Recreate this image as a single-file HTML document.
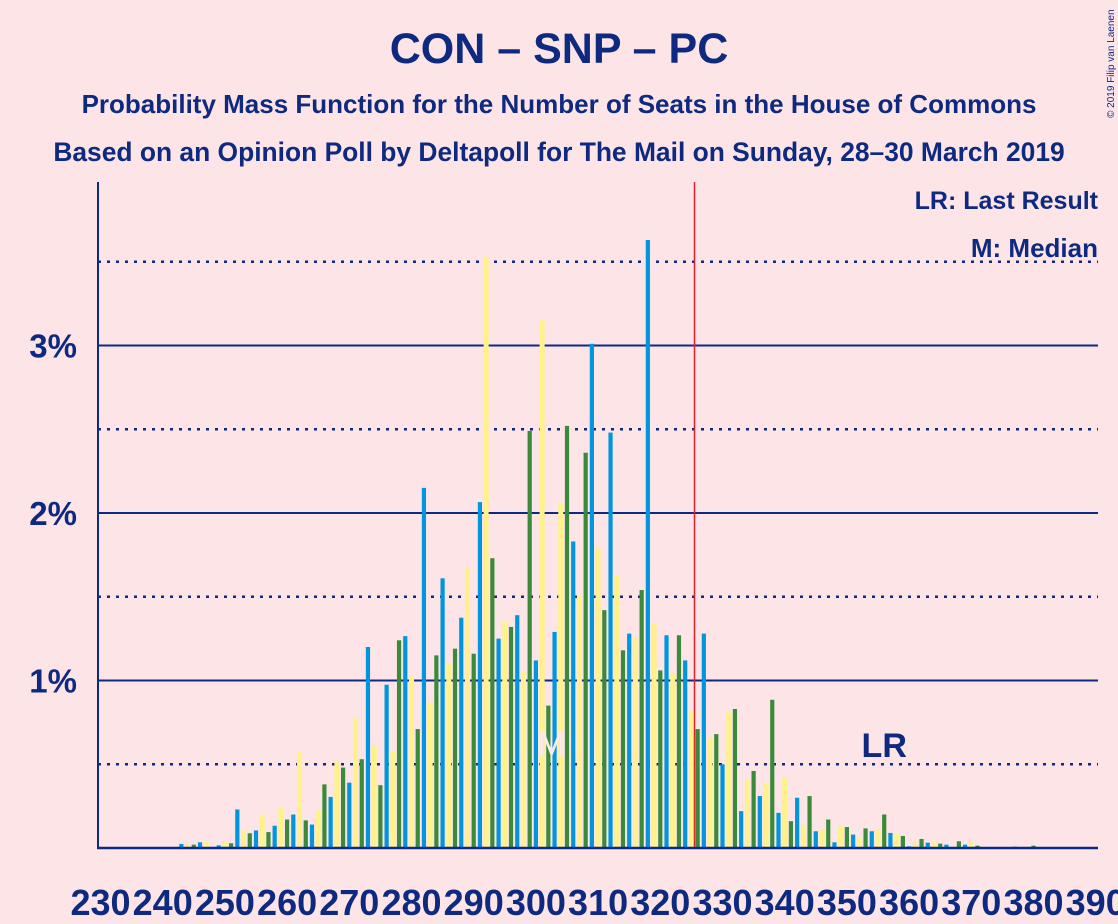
<!DOCTYPE html>
<html><head><meta charset="utf-8"><style>
body{margin:0;background:#fde4e7;}
svg{display:block;font-family:"Liberation Sans",sans-serif;}
</style></head><body>
<svg id="chart" width="1118" height="924" viewBox="0 0 1118 924">
<rect x="0" y="0" width="1118" height="924" fill="#fde4e7"/>
<text x="559" y="63" text-anchor="middle" font-size="43" font-weight="bold" fill="#0d2a80">CON – SNP – PC</text>
<text x="559" y="113" text-anchor="middle" font-size="26" font-weight="bold" fill="#0d2a80">Probability Mass Function for the Number of Seats in the House of Commons</text>
<text x="559" y="161" text-anchor="middle" font-size="26.4" font-weight="bold" fill="#0d2a80">Based on an Opinion Poll by Deltapoll for The Mail on Sunday, 28–30 March 2019</text>
<text x="1114" y="118" transform="rotate(-90 1114 118)" font-size="10" fill="#0d2a80" text-anchor="start">© 2019 Filip van Laenen</text>
<g id="grid"></g>
<g id="bars"></g>
<g id="axes"></g>
<text x="1098" y="209" text-anchor="end" font-size="25" font-weight="bold" fill="#0d2a80">LR: Last Result</text>
<text x="1098" y="257" text-anchor="end" font-size="26" font-weight="bold" fill="#0d2a80">M: Median</text>
</svg>
<script>
const firstSeat = 230;
const values = [0.003,0.003,0.003,0.003,0.003,0.003,0.004,0.004,0.003,0.003,0.004,0.004,0.006,0.024,0.03,0.02,0.034,0.038,0.006,0.016,0.04,0.028,
0.23,0.107,0.088,0.105,0.2,0.095,0.133,0.245,0.17,0.2,0.58,0.165,0.14,0.225,0.38,0.305,0.52,0.48,0.39,0.78,0.53,1.2,0.615,0.375,0.975,0.58,1.24,1.265,1.03,0.71,
2.15,0.87,1.15,1.61,1.10,1.19,1.375,1.67,1.16,2.065,3.53,1.73,1.25,1.35,1.32,1.39,1.05,2.49,1.12,3.15,0.85,1.29,2.06,2.52,1.83,1.51,2.36,3.01,1.79,1.42,2.48,1.63,1.18,1.28,1.26,1.54,3.63,1.34,1.06,1.27,1.04,1.27,1.12,0.82,
0.71,1.28,0.655,0.68,0.50,0.815,0.83,0.22,0.41,0.46,0.31,0.39,0.885,0.21,0.42,0.16,0.30,0.135,0.31,0.10,0.11,0.17,0.034,0.13,0.125,0.08,0.062,0.117,0.10,0.11,0.20,0.09,0.082,0.072,0.01,0.034,0.054,0.032,0.034,0.026,0.02,0.008,0.04,0.02,0.04,0.014,
0.004,0.004,0.004,0.004,0.004,0.008,0.004,0.004,0.014,0.004,0.004,0.004,0.004,0.004,0.004,0.004,0.004,0.004];
const yTicks = [1,2,3];
const yTickLabels = ["1%","2%","3%"];
const yMinorTicks = [0.5,1.5,2.5,3.5];
const xTicks = [230,240,250,260,270,280,290,300,310,320,330,340,350,360,370,380,390];
const majority = 325.5;
const lastResult = 356;
const median = 303;

const NS="http://www.w3.org/2000/svg";
const X0=98, X1=1098, Y0=848;
const pxSeat=6.22, seat0x=100.5;
const sx = s => seat0x + (s-firstSeat)*pxSeat;
const sy = v => Y0 - v*167.5;
const colors=["#3a8a3a","#0096dd","#fff28a"];
function mk(tag, attrs, parent){const e=document.createElementNS(NS,tag);for(const k in attrs)e.setAttribute(k,attrs[k]);parent.appendChild(e);return e;}
const grid=document.getElementById('grid'), bars=document.getElementById('bars'), axes=document.getElementById('axes');
yMinorTicks.forEach(v=>{const l=mk('line',{x1:X0,x2:X1,y1:sy(v),y2:sy(v),stroke:'#0d2a80','stroke-width':2.5,'stroke-dasharray':'3 6'},grid);

});
yTicks.forEach((v,i)=>{const l=mk('line',{x1:X0,x2:X1,y1:sy(v),y2:sy(v),stroke:'#0d2a80','stroke-width':2},grid);


const t=mk('text',{x:77,y:sy(v)+12,'text-anchor':'end','font-size':33,'font-weight':'bold',fill:'#0d2a80'},axes);
t.textContent=yTickLabels[i];

});
values.forEach((v,i)=>{const s=firstSeat+i;const k=i%3;const c=colors[k];const w=(k===2)?5:4.2;
const r=mk('rect',{x:sx(s)-w/2,y:sy(v),width:w,height:Math.max(0,Y0-sy(v)),fill:c},bars);

});
const red=mk('line',{x1:sx(majority),x2:sx(majority),y1:182,y2:Y0,stroke:'#e0202a','stroke-width':1.5},axes);


const ya=mk('line',{x1:X0,x2:X0,y1:182,y2:Y0+1,stroke:'#0d2a80','stroke-width':2},axes);


const xa=mk('line',{x1:X0-1,x2:X1,y1:Y0,y2:Y0,stroke:'#0d2a80','stroke-width':2.5},axes);


xTicks.forEach(s=>{const t=mk('text',{x:sx(s),y:915,'text-anchor':'middle','font-size':36,'font-weight':'bold',fill:'#0d2a80'},axes);
t.textContent=String(s);

});
const lr=mk('text',{x:sx(lastResult),y:757,'text-anchor':'middle','font-size':34,'font-weight':'bold',fill:'#0d2a80'},axes);
lr.textContent='LR';


const m=mk('text',{x:sx(median)-3,y:755,'text-anchor':'middle','font-size':34,fill:'#fbeaec'},axes);
m.textContent='M';


</script>
</body></html>
